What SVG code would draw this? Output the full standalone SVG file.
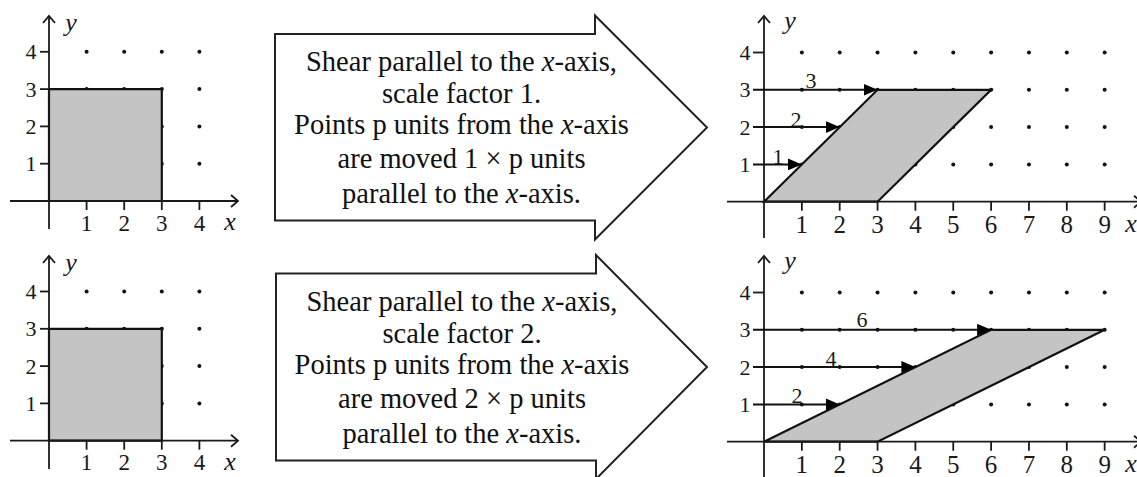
<svg xmlns="http://www.w3.org/2000/svg" width="1137" height="477" viewBox="0 0 1137 477">
<style>
.ax{stroke:#1a1a1a;stroke-width:1.8;fill:none}
.tk{stroke:#1a1a1a;stroke-width:1.8}
.sh{fill:#c4c4c4;stroke:#111;stroke-width:2.2;stroke-linejoin:miter}
.dot{fill:#111}
.num{font-family:"Liberation Serif",serif;fill:#1a1a1a;text-anchor:middle}
.var{font-family:"Liberation Serif",serif;font-style:italic;fill:#1a1a1a;text-anchor:middle}
.big{fill:#fff;stroke:#222;stroke-width:2}
.txt{font-family:"Liberation Serif",serif;font-size:28.5px;fill:#111;text-anchor:middle}
.mv{stroke:#111;stroke-width:2;fill:none}
</style>
<defs>
<marker id="ah" markerUnits="userSpaceOnUse" markerWidth="15" markerHeight="12" refX="14" refY="6" orient="auto">
<path d="M0,0 L14,6 L0,12 z" fill="#000"/>
</marker>
<g id="dots4">
<circle class="dot" cx="86.6" cy="0" r="2"/><circle class="dot" cx="124.2" cy="0" r="2"/><circle class="dot" cx="161.8" cy="0" r="2"/><circle class="dot" cx="199.4" cy="0" r="2"/>
</g>
<g id="dots9">
<circle class="dot" cx="801.85" cy="0" r="2"/><circle class="dot" cx="839.7" cy="0" r="2"/><circle class="dot" cx="877.55" cy="0" r="2"/><circle class="dot" cx="915.4" cy="0" r="2"/><circle class="dot" cx="953.25" cy="0" r="2"/><circle class="dot" cx="991.1" cy="0" r="2"/><circle class="dot" cx="1028.95" cy="0" r="2"/><circle class="dot" cx="1066.8" cy="0" r="2"/><circle class="dot" cx="1104.65" cy="0" r="2"/>
</g>
</defs>
<rect width="1137" height="477" fill="#fff"/>

<!-- Top-left graph -->
<g id="graph-top-left">
<use href="#dots4" y="51.8"/><use href="#dots4" y="89.1"/><use href="#dots4" y="126.4"/><use href="#dots4" y="163.7"/>
<polygon class="sh" points="49,201 161.8,201 161.8,89.1 49,89.1"/>
<line class="ax" x1="10" y1="201" x2="238" y2="201"/>
<path class="ax" d="M231,195 L238,201 L231,207"/>
<line class="ax" x1="49" y1="229" x2="49" y2="16"/>
<path class="ax" d="M43,23 L49,16 L55,23"/>
<g class="tk">
<line x1="86.6" y1="201" x2="86.6" y2="210"/><line x1="124.2" y1="201" x2="124.2" y2="210"/><line x1="161.8" y1="201" x2="161.8" y2="210"/><line x1="199.4" y1="201" x2="199.4" y2="210"/>
<line x1="40" y1="51.8" x2="49" y2="51.8"/><line x1="40" y1="89.1" x2="49" y2="89.1"/><line x1="40" y1="126.4" x2="49" y2="126.4"/><line x1="40" y1="163.7" x2="49" y2="163.7"/>
</g>
<g class="num" font-size="23">
<text x="86.6" y="230.5">1</text><text x="124.2" y="230.5">2</text><text x="161.8" y="230.5">3</text><text x="199.4" y="230.5">4</text>
</g>
<g class="num" font-size="22">
<text x="31" y="59.3">4</text><text x="31" y="96.6">3</text><text x="31" y="133.9">2</text><text x="31" y="171.2">1</text>
</g>
<text class="var" x="71" y="31" font-size="26">y</text>
<text class="var" x="230" y="230" font-size="26">x</text>
</g>

<!-- Bottom-left graph -->
<g id="graph-bottom-left">
<use href="#dots4" y="291.5"/><use href="#dots4" y="328.8"/><use href="#dots4" y="366.1"/><use href="#dots4" y="403.4"/>
<polygon class="sh" points="49,440.7 161.8,440.7 161.8,328.8 49,328.8"/>
<line class="ax" x1="10" y1="440.7" x2="238" y2="440.7"/>
<path class="ax" d="M231,434.7 L238,440.7 L231,446.7"/>
<line class="ax" x1="49" y1="469" x2="49" y2="256"/>
<path class="ax" d="M43,263 L49,256 L55,263"/>
<g class="tk">
<line x1="86.6" y1="440.7" x2="86.6" y2="449.7"/><line x1="124.2" y1="440.7" x2="124.2" y2="449.7"/><line x1="161.8" y1="440.7" x2="161.8" y2="449.7"/><line x1="199.4" y1="440.7" x2="199.4" y2="449.7"/>
<line x1="40" y1="291.5" x2="49" y2="291.5"/><line x1="40" y1="328.8" x2="49" y2="328.8"/><line x1="40" y1="366.1" x2="49" y2="366.1"/><line x1="40" y1="403.4" x2="49" y2="403.4"/>
</g>
<g class="num" font-size="23">
<text x="86.6" y="470">1</text><text x="124.2" y="470">2</text><text x="161.8" y="470">3</text><text x="199.4" y="470">4</text>
</g>
<g class="num" font-size="22">
<text x="31" y="299">4</text><text x="31" y="336.3">3</text><text x="31" y="373.6">2</text><text x="31" y="410.9">1</text>
</g>
<text class="var" x="71" y="271" font-size="26">y</text>
<text class="var" x="230" y="469.7" font-size="26">x</text>
</g>

<!-- Top arrow -->
<g id="arrow-top">
<polygon class="big" points="275,34 595,34 595,15.5 707,127.5 595,239.5 595,220.5 275,220.5"/>
<text class="txt" x="461.5" y="71">Shear parallel to the <tspan font-style="italic">x</tspan>-axis,</text>
<text class="txt" x="461.5" y="102.5">scale factor 1.</text>
<text class="txt" x="461.5" y="134">Points p units from the <tspan font-style="italic">x</tspan>-axis</text>
<text class="txt" x="461.5" y="168">are moved 1 × p units</text>
<text class="txt" x="461.5" y="202.5">parallel to the <tspan font-style="italic">x</tspan>-axis.</text>
</g>

<!-- Bottom arrow -->
<g id="arrow-bottom">
<polygon class="big" points="276,273.5 596,273.5 596,255 707,367 596,479 596,460.5 276,460.5"/>
<text class="txt" x="462" y="311">Shear parallel to the <tspan font-style="italic">x</tspan>-axis,</text>
<text class="txt" x="462" y="342.5">scale factor 2.</text>
<text class="txt" x="462" y="374">Points p units from the <tspan font-style="italic">x</tspan>-axis</text>
<text class="txt" x="462" y="408">are moved 2 × p units</text>
<text class="txt" x="462" y="442.5">parallel to the <tspan font-style="italic">x</tspan>-axis.</text>
</g>

<!-- Top-right graph -->
<g id="graph-top-right">
<use href="#dots9" y="52.5"/><use href="#dots9" y="89.8"/><use href="#dots9" y="127.1"/><use href="#dots9" y="164.4"/>
<polygon class="sh" points="764,201.7 877.55,89.8 991.1,89.8 877.55,201.7"/>
<line class="ax" x1="727" y1="201.7" x2="1141" y2="201.7"/>
<path class="ax" d="M1134,195.7 L1141,201.7 L1134,207.7"/>
<line class="ax" x1="764" y1="238" x2="764" y2="16"/>
<path class="ax" d="M758,23 L764,16 L770,23"/>
<g class="tk">
<line x1="801.85" y1="201.7" x2="801.85" y2="210.7"/><line x1="839.7" y1="201.7" x2="839.7" y2="210.7"/><line x1="877.55" y1="201.7" x2="877.55" y2="210.7"/><line x1="915.4" y1="201.7" x2="915.4" y2="210.7"/><line x1="953.25" y1="201.7" x2="953.25" y2="210.7"/><line x1="991.1" y1="201.7" x2="991.1" y2="210.7"/><line x1="1028.95" y1="201.7" x2="1028.95" y2="210.7"/><line x1="1066.8" y1="201.7" x2="1066.8" y2="210.7"/><line x1="1104.65" y1="201.7" x2="1104.65" y2="210.7"/>
<line x1="753" y1="52.5" x2="764" y2="52.5"/>
</g>
<g class="num" font-size="25">
<text x="801.85" y="232.5">1</text><text x="839.7" y="232.5">2</text><text x="877.55" y="232.5">3</text><text x="915.4" y="232.5">4</text><text x="953.25" y="232.5">5</text><text x="991.1" y="232.5">6</text><text x="1028.95" y="232.5">7</text><text x="1066.8" y="232.5">8</text><text x="1104.65" y="232.5">9</text>
</g>
<g class="num" font-size="22">
<text x="745" y="60">4</text><text x="745" y="97.3">3</text><text x="745" y="134.6">2</text><text x="745" y="171.9">1</text>
</g>
<g class="num" font-size="22">
<text x="778" y="164">1</text><text x="796" y="126.5">2</text><text x="811" y="88">3</text>
</g>
<text class="var" x="790" y="29" font-size="26">y</text>
<text class="var" x="1131" y="232" font-size="26">x</text>
</g>

<!-- Bottom-right graph -->
<g id="graph-bottom-right">
<use href="#dots9" y="292.5"/><use href="#dots9" y="329.8"/><use href="#dots9" y="367.1"/><use href="#dots9" y="404.4"/>
<polygon class="sh" points="764,441.7 991.1,329.8 1104.65,329.8 877.55,441.7"/>
<line class="ax" x1="727" y1="441.7" x2="1141" y2="441.7"/>
<path class="ax" d="M1134,435.7 L1141,441.7 L1134,447.7"/>
<line class="ax" x1="764" y1="478" x2="764" y2="256"/>
<path class="ax" d="M758,263 L764,256 L770,263"/>
<g class="tk">
<line x1="801.85" y1="441.7" x2="801.85" y2="450.7"/><line x1="839.7" y1="441.7" x2="839.7" y2="450.7"/><line x1="877.55" y1="441.7" x2="877.55" y2="450.7"/><line x1="915.4" y1="441.7" x2="915.4" y2="450.7"/><line x1="953.25" y1="441.7" x2="953.25" y2="450.7"/><line x1="991.1" y1="441.7" x2="991.1" y2="450.7"/><line x1="1028.95" y1="441.7" x2="1028.95" y2="450.7"/><line x1="1066.8" y1="441.7" x2="1066.8" y2="450.7"/><line x1="1104.65" y1="441.7" x2="1104.65" y2="450.7"/>
<line x1="753" y1="292.5" x2="764" y2="292.5"/>
</g>
<g class="num" font-size="25">
<text x="801.85" y="472.5">1</text><text x="839.7" y="472.5">2</text><text x="877.55" y="472.5">3</text><text x="915.4" y="472.5">4</text><text x="953.25" y="472.5">5</text><text x="991.1" y="472.5">6</text><text x="1028.95" y="472.5">7</text><text x="1066.8" y="472.5">8</text><text x="1104.65" y="472.5">9</text>
</g>
<g class="num" font-size="22">
<text x="745" y="300">4</text><text x="745" y="337.3">3</text><text x="745" y="374.6">2</text><text x="745" y="411.9">1</text>
</g>
<g class="num" font-size="22">
<text x="797" y="402.5">2</text><text x="831" y="365.5">4</text><text x="862" y="327">6</text>
</g>
<text class="var" x="790" y="269" font-size="26">y</text>
<text class="var" x="1131" y="472" font-size="26">x</text>
</g>

<!-- Connectors: displacement arrows -->
<g id="connectors">
<line class="mv" x1="753" y1="164.4" x2="801.85" y2="164.4" marker-end="url(#ah)"/>
<line class="mv" x1="753" y1="127.1" x2="839.7" y2="127.1" marker-end="url(#ah)"/>
<line class="mv" x1="753" y1="89.8" x2="877.55" y2="89.8" marker-end="url(#ah)"/>
<line class="mv" x1="753" y1="404.4" x2="839.7" y2="404.4" marker-end="url(#ah)"/>
<line class="mv" x1="753" y1="367.1" x2="915.4" y2="367.1" marker-end="url(#ah)"/>
<line class="mv" x1="753" y1="329.8" x2="991.1" y2="329.8" marker-end="url(#ah)"/>
</g>
</svg>
